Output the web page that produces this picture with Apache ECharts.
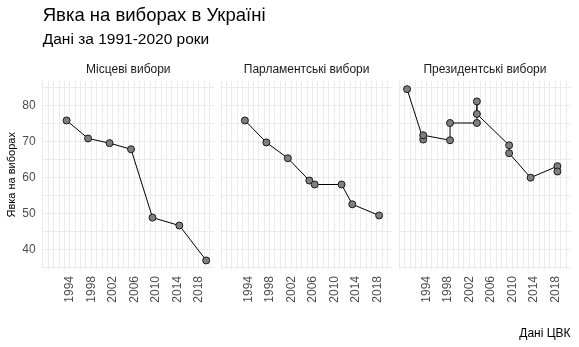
<!DOCTYPE html>
<html><head><meta charset="utf-8">
<script src="https://cdn.jsdelivr.net/npm/echarts@6/dist/echarts.min.js"></script>
<style>html,body{margin:0;padding:0;background:#fff}#c{width:579px;height:347px}</style>
</head><body><div id="c"></div>
<script>
// ---- data ----
const panelTitles = ['Місцеві вибори', 'Парламентські вибори', 'Президентські вибори'];
const localYears = [1994, 1998, 2002, 2006, 2010, 2015, 2020];
const localTurnout = [75.9, 70.9, 69.6, 67.9, 48.9, 46.7, 37.0];
const parlYears = [1994, 1998, 2002, 2006, 2007, 2012, 2014, 2019];
const parlTurnout = [75.9, 69.8, 65.4, 59.2, 58.1, 58.1, 52.6, 49.5];
const presYears = [1991, 1994, 1994, 1999, 1999, 2004, 2004, 2004, 2010, 2010, 2014, 2019, 2019];
const presTurnout = [84.6, 70.6, 71.8, 70.4, 75.2, 75.2, 81.2, 77.7, 69.0, 66.8, 60.0, 63.2, 61.7];
const xTickLabels = [1994, 1998, 2002, 2006, 2010, 2014, 2018];
const yTickLabels = [40, 50, 60, 70, 80];
const yMinorTicks = [35, 45, 55, 65, 75, 85];

const titleText = 'Явка на виборах в Україні';
const subtitleText = 'Дані за 1991-2020 роки';
const yAxisTitle = 'Явка на виборах';
const captionText = 'Дані ЦВК';

// ---- scales (ggplot-like 5% expansion) ----
const allYears = localYears.concat(parlYears, presYears);
const allVals = localTurnout.concat(parlTurnout, presTurnout);
const xLo = Math.min(...allYears), xHi = Math.max(...allYears);
const yLo = Math.min(...allVals), yHi = Math.max(...allVals);
const xPad = (xHi - xLo) * 0.05, yPad = (yHi - yLo) * 0.05;
const xMin = xLo - xPad, xMax = xHi + xPad, yMin = yLo - yPad, yMax = yHi + yPad;
const xGridVals = [];
for (let k = 0; xMin + k <= xMax; k++) xGridVals.push(+(xMin + k).toFixed(3));
const yGridVals = yTickLabels.concat(yMinorTicks).sort((a, b) => a - b);

const FONT = '"Liberation Sans", Arial, sans-serif';
const panelLeft = [42.7, 221.0, 399.3];
const panelW = 171.3, panelTop = 80.6, panelH = 188.4;

const zip = (xs, ys) => xs.map((x, i) => [x, ys[i]]);
const seriesData = [zip(localYears, localTurnout), zip(parlYears, parlTurnout), zip(presYears, presTurnout)];

const grids = [], xAxes = [], yAxes = [], series = [], graphics = [];
for (let i = 0; i < 3; i++) {
  grids.push({left: panelLeft[i], top: panelTop, width: panelW, height: panelH, containLabel: false});
  xAxes.push({
    type: 'value', gridIndex: i, min: xMin, max: xMax,
    axisLine: {show: false},
    axisTick: {show: false, customValues: xGridVals},
    splitLine: {show: true, lineStyle: {color: '#ebebeb', width: 1}},
    axisLabel: {
      show: true, customValues: xTickLabels, rotate: 90, color: '#4d4d4d',
      fontFamily: FONT, fontSize: 12, margin: 7, verticalAlign: 'top', lineHeight: 7,
      formatter: v => String(v)
    }
  });
  yAxes.push({
    type: 'value', gridIndex: i, min: yMin, max: yMax,
    axisLine: {show: false},
    axisTick: {show: false, customValues: yGridVals},
    splitLine: {show: true, lineStyle: {color: '#ebebeb', width: 1}},
    axisLabel: {
      show: i === 0, customValues: yTickLabels, color: '#4d4d4d',
      fontFamily: FONT, fontSize: 12, margin: 7, formatter: v => String(v)
    }
  });
  series.push({
    type: 'line', xAxisIndex: i, yAxisIndex: i, data: seriesData[i],
    symbol: 'circle', symbolSize: 7, showSymbol: true,
    lineStyle: {color: '#000', width: 1},
    itemStyle: {color: '#808080', borderColor: '#1a1a1a', borderWidth: 1},
    emphasis: {disabled: true}, animation: false, z: 3
  });
  graphics.push({
    type: 'text', x: panelLeft[i] + panelW / 2, y: 69.5,
    style: {text: panelTitles[i], fill: '#1a1a1a', font: '12px ' + FONT, align: 'center', verticalAlign: 'middle'}
  });
}
graphics.push(
  {type: 'text', x: 42.7, y: 16, style: {text: titleText, fill: '#000', font: '18.5px ' + FONT, align: 'left', verticalAlign: 'middle'}},
  {type: 'text', x: 42.7, y: 40, style: {text: subtitleText, fill: '#000', font: '15.5px ' + FONT, align: 'left', verticalAlign: 'middle'}},
  {type: 'text', x: 570.6, y: 333.4, style: {text: captionText, fill: '#000', font: '12px ' + FONT, align: 'right', verticalAlign: 'middle'}},
  {type: 'text', x: 12.3, y: 174.8, rotation: Math.PI / 2,
   style: {text: yAxisTitle, fill: '#000', font: '11px ' + FONT, align: 'center', verticalAlign: 'middle'}}
);

const chart = echarts.init(document.getElementById('c'), null, {renderer: 'canvas'});
chart.setOption({
  backgroundColor: '#fff', animation: false,
  grid: grids, xAxis: xAxes, yAxis: yAxes, series: series, graphic: graphics
});
</script></body></html>
